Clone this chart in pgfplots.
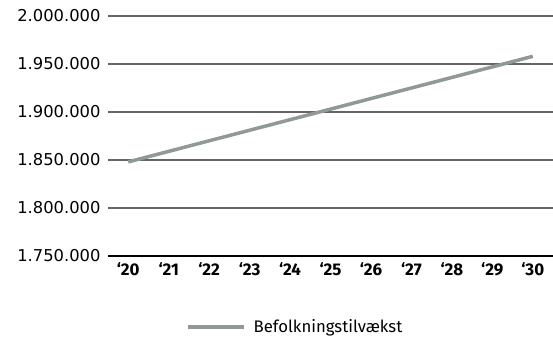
\documentclass[border=0pt]{standalone}
\usepackage{pgfplots}
\pgfplotsset{compat=1.18}
\usepackage{fontspec}
\setmainfont{Fira Sans}
\newfontfamily\yfont{DejaVu Sans}
\definecolor{linegray}{RGB}{143,154,152}
\definecolor{gridgray}{RGB}{100,100,100}
\begin{document}
\begin{tikzpicture}[x=1bp,y=1bp]
\path[use as bounding box] (0,0) rectangle (553,342);
\begin{axis}[
  at={(108bp,86bp)}, anchor=south west,
  scale only axis, width=445bp, height=240bp,
  xmin=-0.5, xmax=10.5,
  ymin=1750000, ymax=2000000,
  xtick={0,...,10},
  xticklabels={‘20,‘21,‘22,‘23,‘24,‘25,‘26,‘27,‘28,‘29,‘30},
  ytick={1750000,1800000,1850000,1900000,1950000,2000000},
  yticklabels={1.750.000,1.800.000,1.850.000,1.900.000,1.950.000,2.000.000},
  scaled y ticks=false,
  axis x line*=bottom, axis y line*=left,
  x axis line style={black, line width=1.3bp, -},
  y axis line style={draw=none},
  major tick length=0pt,
  ymajorgrids, grid style={gridgray, line width=1.1bp},
  x tick label style={font=\fontsize{17}{19}\selectfont\bfseries, yshift=-3bp},
  y tick label style={font=\yfont\fontsize{16.4}{18}\selectfont, xshift=-4bp},
  clip=false,
  legend style={at={(0.175,-0.296)}, anchor=west, draw=none, fill=none, inner sep=0pt,
    font=\fontsize{16.8}{19}\selectfont},
  legend image code/.code={\draw[#1, line width=3.5bp] (0bp,0bp) -- (56bp,0bp);},
  legend cell align=left,
  legend style={/tikz/every even column/.append style={column sep=0pt}},
  legend style={nodes={inner xsep=8bp}},
]
\addplot[linegray, line width=3.5bp] coordinates {(0,1848000) (10,1958000)};
\addlegendentry{Befolkningstilvækst}
\end{axis}
\end{tikzpicture}
\end{document}
